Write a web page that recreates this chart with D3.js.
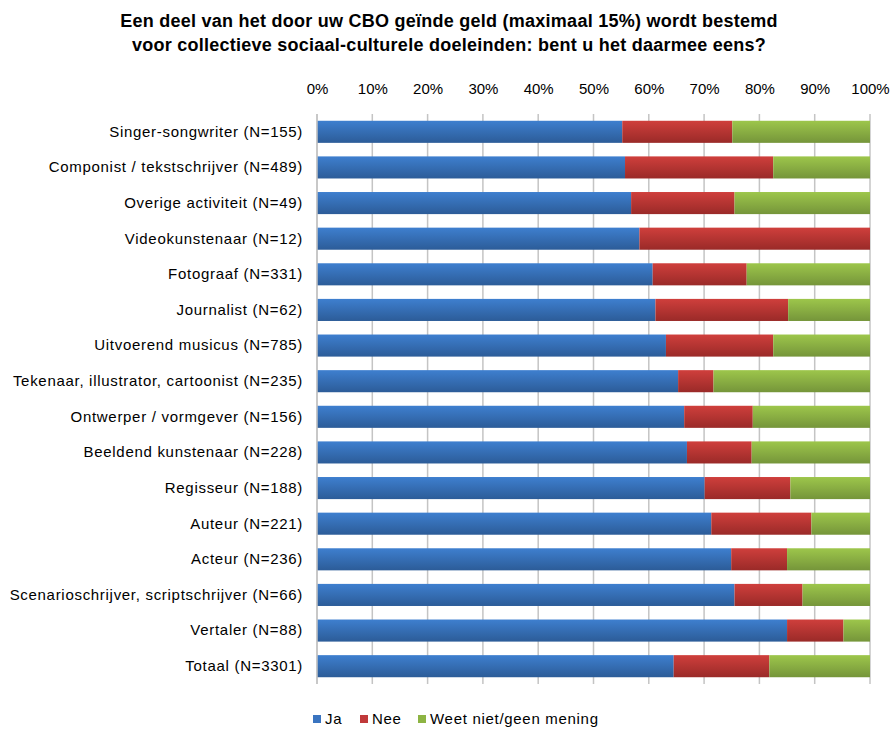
<!DOCTYPE html>
<html>
<head>
<meta charset="utf-8">
<script src="https://cdn.jsdelivr.net/npm/d3@7"></script>
<style>
  html, body { margin: 0; padding: 0; background: #fff; }
  svg { display: block; font-family: "Liberation Sans", Arial, sans-serif; }
</style>
</head>
<body>
<svg id="chart" width="893" height="731"></svg>
<script>
// Survey: share of answers per professional group (percent)
const categories = [
  "Singer-songwriter (N=155)",
  "Componist / tekstschrijver (N=489)",
  "Overige activiteit (N=49)",
  "Videokunstenaar (N=12)",
  "Fotograaf (N=331)",
  "Journalist (N=62)",
  "Uitvoerend musicus (N=785)",
  "Tekenaar, illustrator, cartoonist (N=235)",
  "Ontwerper / vormgever (N=156)",
  "Beeldend kunstenaar (N=228)",
  "Regisseur (N=188)",
  "Auteur (N=221)",
  "Acteur (N=236)",
  "Scenarioschrijver, scriptschrijver (N=66)",
  "Vertaler (N=88)",
  "Totaal (N=3301)"
];
const ja   = [55.2, 55.7, 56.8, 58.3, 60.7, 61.2, 63.1, 65.3, 66.4, 66.9, 70.1, 71.3, 74.9, 75.5, 85.0, 64.5];
const nee  = [19.9, 26.8, 18.7, 41.7, 17.0, 24.0, 19.4,  6.4, 12.4, 11.7, 15.5, 18.1, 10.1, 12.3, 10.2, 17.3];
const weet = ja.map((v, i) => +(100 - v - nee[i]).toFixed(1));

const seriesNames = ["Ja", "Nee", "Weet niet/geen mening"];
const tickValues = [0, 10, 20, 30, 40, 50, 60, 70, 80, 90, 100];
const titleLines = [
  "Een deel van het door uw CBO geïnde geld (maximaal 15%) wordt bestemd",
  "voor collectieve sociaal-culturele doeleinden: bent u het daarmee eens?"
];

const colors = [
  { top: "#3e7fcf", bottom: "#2c5c98", key: "#3a74c0" },
  { top: "#cf3f3c", bottom: "#9a2a28", key: "#c0393a" },
  { top: "#9dc64b", bottom: "#75953a", key: "#8db443" }
];

const svg = d3.select("#chart");
const margin = { left: 317, right: 23, top: 114, bottom: 47 };
const W = 893, H = 731;

const x = d3.scaleLinear().domain([0, 100]).range([margin.left, W - margin.right]);
const y = d3.scaleBand().domain(categories).range([margin.top, H - margin.bottom])
  .paddingInner(0.38).paddingOuter(0.19);

// gradients for bar fills
const defs = svg.append("defs");
colors.forEach((c, i) => {
  const g = defs.append("linearGradient").attr("id", "grad" + i)
    .attr("x1", 0).attr("y1", 0).attr("x2", 0).attr("y2", 1);
  g.append("stop").attr("offset", "0%").attr("stop-color", c.top);
  g.append("stop").attr("offset", "100%").attr("stop-color", c.bottom);
});

// title
svg.append("g").selectAll("text").data(titleLines).join("text")
  .attr("x", 449).attr("y", (d, i) => 27 + i * 24)
  .attr("text-anchor", "middle")
  .attr("font-size", 18).attr("font-weight", "bold").attr("fill", "#000")
  .attr("letter-spacing", 0.25)
  .text(d => d);

// gridlines
svg.append("g").selectAll("line").data(tickValues).join("line")
  .attr("x1", d => x(d)).attr("x2", d => x(d))
  .attr("y1", margin.top).attr("y2", H - margin.bottom)
  .attr("stroke", "#c4c4c4").attr("stroke-width", 1.5);

// top axis labels
const xAxis = d3.axisTop(x).tickValues(tickValues).tickFormat(d => d + "%").tickSize(0).tickPadding(0);
const gx = svg.append("g").attr("transform", `translate(0,${margin.top - 20})`).call(xAxis);
gx.select(".domain").remove();
gx.selectAll("text").attr("font-size", 15).attr("fill", "#000")
  .attr("font-family", "Liberation Sans, Arial, sans-serif");

// stacked bars
const rows = categories.map((c, i) => ({ cat: c, Ja: ja[i], Nee: nee[i], Weet: weet[i] }));
const stack = d3.stack().keys(["Ja", "Nee", "Weet"]);
const layers = stack(rows);
svg.append("g").selectAll("g").data(layers).join("g")
  .attr("fill", (d, i) => `url(#grad${i})`)
  .selectAll("rect").data(d => d).join("rect")
  .attr("x", d => x(d[0]))
  .attr("width", d => Math.max(0, x(d[1]) - x(d[0])))
  .attr("y", d => y(d.data.cat))
  .attr("height", y.bandwidth());

// left axis line
svg.append("line")
  .attr("x1", x(0)).attr("x2", x(0))
  .attr("y1", margin.top).attr("y2", H - margin.bottom)
  .attr("stroke", "#c4c4c4").attr("stroke-width", 1.5);

// category labels
const yAxis = d3.axisLeft(y).tickSize(0).tickPadding(14);
const gy = svg.append("g").attr("transform", `translate(${x(0)},0)`).call(yAxis);
gy.select(".domain").remove();
gy.selectAll("text").attr("font-size", 15).attr("fill", "#000")
  .attr("letter-spacing", 0.7)
  .attr("font-family", "Liberation Sans, Arial, sans-serif");

// legend
const legendX = [313, 360, 418];
const legend = svg.append("g").selectAll("g").data(seriesNames).join("g")
  .attr("transform", (d, i) => `translate(${legendX[i]},719)`);
legend.append("rect").attr("x", 0).attr("y", -4).attr("width", 8).attr("height", 8)
  .attr("fill", (d, i) => colors[i].key);
legend.append("text").attr("x", 12).attr("y", 0).attr("dy", "0.35em")
  .attr("font-size", 15).attr("fill", "#000").attr("letter-spacing", 0.7).text(d => d);
</script>
</body>
</html>
